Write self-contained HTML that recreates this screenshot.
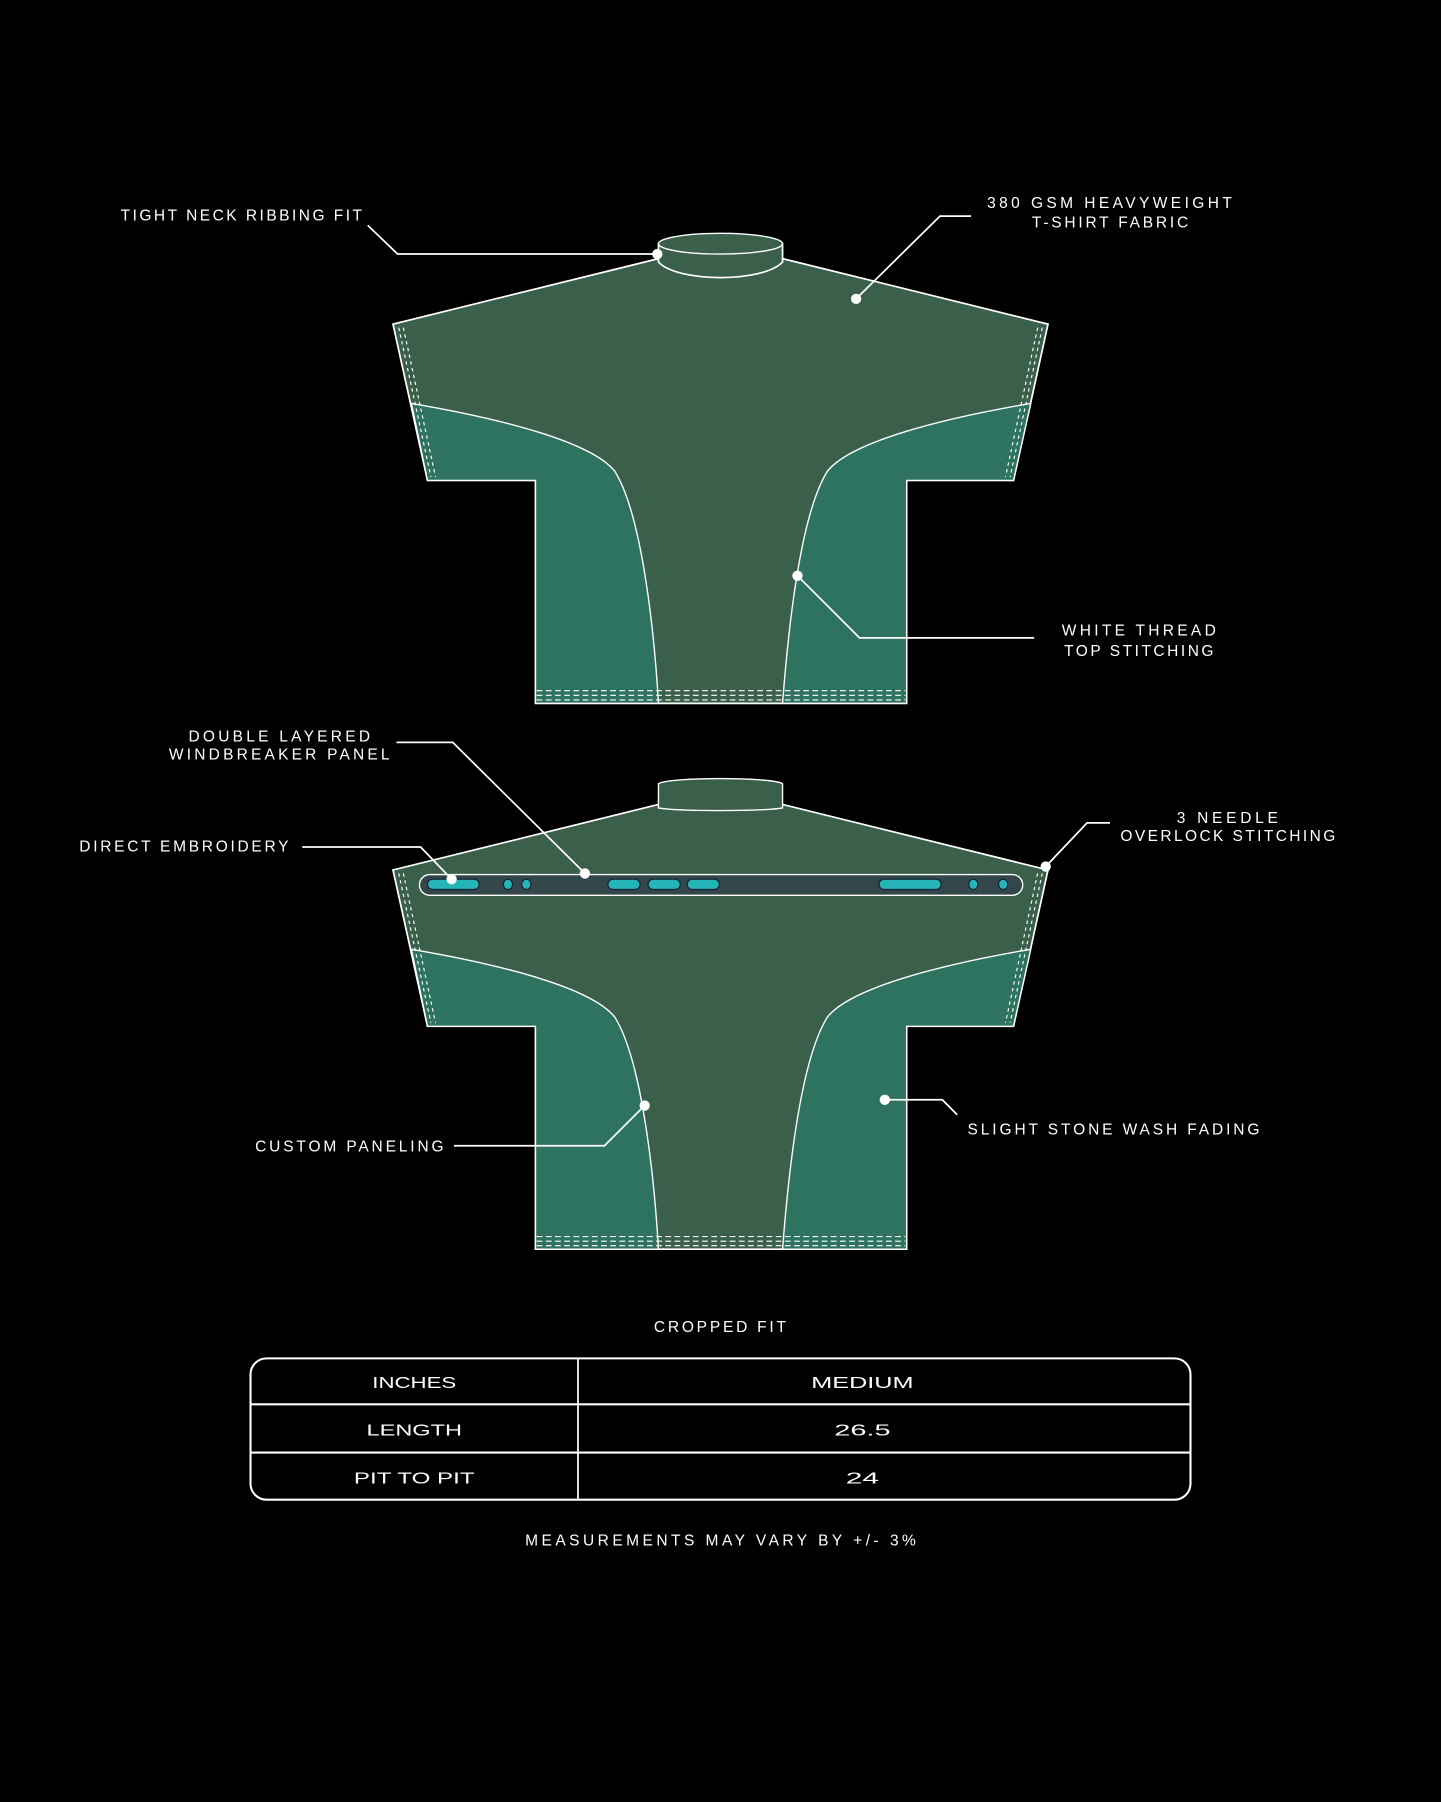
<!DOCTYPE html>
<html><head><meta charset="utf-8"><style>
html,body{margin:0;padding:0;background:#000;}
svg{display:block}
text{font-family:"Liberation Sans",sans-serif;fill:#fff;font-size:13.5px;}
</style></head><body>
<svg width="1441" height="1802" viewBox="0 0 1254 1568" xmlns="http://www.w3.org/2000/svg">
<rect width="1254" height="1568" fill="#000"/>
<defs>
<g id="shirt">
  <path d="M573,225 L342,282 L372,418 L466,418 L466,612 L789,612 L789,418 L882,418 L912,282 L681,225 Z" fill="#3a5f4a" stroke="#fff" stroke-width="1.5"/>
  <path d="M358,351 C440,365 515,385 535,410 C560,450 570,560 573,612 L466,612 L466,418 L372,418 Z" fill="#2e7360" stroke="#fff" stroke-width="1.2"/>
  <path d="M897,351 C815,365 740,385 720,410 C695,450 685,560 681,612 L789,612 L789,418 L882,418 Z" fill="#2e7360" stroke="#fff" stroke-width="1.2"/>
  <g stroke="#fff" stroke-width="1" fill="none" stroke-dasharray="3 3">
    <line x1="347" y1="285" x2="375" y2="415"/>
    <line x1="351" y1="285" x2="379" y2="415"/>
    <line x1="907" y1="285" x2="879" y2="415"/>
    <line x1="903" y1="285" x2="875" y2="415"/>
    <line x1="467" y1="601" x2="788" y2="601" stroke-dasharray="5 3"/>
    <line x1="467" y1="605" x2="788" y2="605" stroke-dasharray="5 3"/>
    <line x1="467" y1="609" x2="788" y2="609" stroke-dasharray="5 3"/>
  </g>
</g>
</defs>
<use href="#shirt"/>
<path d="M573,212 L573,228 C590,246 664,246 681,228 L681,212 Z" fill="#3a5f4a" stroke="#fff" stroke-width="1.5"/>
<ellipse cx="627" cy="212" rx="54" ry="9" fill="#3a5f4a" stroke="#fff" stroke-width="1.2"/>
<use href="#shirt" y="475"/>
<path d="M573,703 L573,682 C580,676 674,676 681,682 L681,703 C664,706 590,706 573,703 Z" fill="#3a5f4a" stroke="#fff" stroke-width="1.2"/>
<rect x="365" y="761" width="525" height="18" rx="9" fill="#33464a" stroke="#fff" stroke-width="1.2"/>
<g fill="#25b5b8" stroke="#123" stroke-width="1">
  <rect x="372" y="765" width="45" height="9" rx="4.5"/>
  <ellipse cx="442" cy="769.5" rx="4" ry="4.5"/>
  <ellipse cx="458" cy="769.5" rx="4" ry="4.5"/>
  <rect x="529" y="765" width="28" height="9" rx="4.5"/>
  <rect x="564" y="765" width="28" height="9" rx="4.5"/>
  <rect x="598" y="765" width="28" height="9" rx="4.5"/>
  <rect x="765" y="765" width="54" height="9" rx="4.5"/>
  <ellipse cx="847" cy="769.5" rx="4" ry="4.5"/>
  <ellipse cx="873" cy="769.5" rx="4" ry="4.5"/>
</g>
<g stroke="#fff" stroke-width="1.5" fill="none">
  <polyline points="320,196 346,221 572,221"/>
  <polyline points="845,188 818,188 745,260"/>
  <polyline points="900,555 748,555 694,501"/>
  <polyline points="345,646 394,646 509,760"/>
  <polyline points="263,737 366,737 393,765"/>
  <polyline points="966,716 946,716 910,754"/>
  <polyline points="395,997 526,997 561,962"/>
  <polyline points="833,970 820,957 770,957"/>
</g>
<g fill="#fff">
  <circle cx="572" cy="221" r="4.5"/><circle cx="745" cy="260" r="4.5"/>
  <circle cx="694" cy="501" r="4.5"/><circle cx="509" cy="760" r="4.5"/>
  <circle cx="393" cy="765" r="4.5"/><circle cx="910" cy="754" r="4.5"/>
  <circle cx="561" cy="962" r="4.5"/><circle cx="770" cy="957" r="4.5"/>
</g>
<text x="105" y="192" textLength="210">TIGHT NECK RIBBING FIT</text>
<text x="859" y="181" textLength="213">380 GSM HEAVYWEIGHT</text>
<text x="898" y="198" textLength="136">T-SHIRT FABRIC</text>
<text x="924" y="553" textLength="134">WHITE THREAD</text>
<text x="926" y="571" textLength="130">TOP STITCHING</text>
<text x="164" y="645" textLength="158">DOUBLE LAYERED</text>
<text x="147" y="661" textLength="192">WINDBREAKER PANEL</text>
<text x="69" y="741" textLength="182">DIRECT EMBROIDERY</text>
<text x="1024" y="716" textLength="88">3 NEEDLE</text>
<text x="975" y="732" textLength="187">OVERLOCK STITCHING</text>
<text x="222" y="1002" textLength="164">CUSTOM PANELING</text>
<text x="842" y="987" textLength="254">SLIGHT STONE WASH FADING</text>
<text x="569" y="1159" textLength="115">CROPPED FIT</text>
<rect x="218" y="1182" width="818" height="123" rx="14" fill="none" stroke="#fff" stroke-width="1.8"/>
<line x1="218" y1="1222" x2="1036" y2="1222" stroke="#fff" stroke-width="1.8"/>
<line x1="218" y1="1264" x2="1036" y2="1264" stroke="#fff" stroke-width="1.8"/>
<line x1="503" y1="1182" x2="503" y2="1305" stroke="#fff" stroke-width="1.5"/>
<g style="font-size:17px">
<text x="324" y="1208" textLength="73" lengthAdjust="spacingAndGlyphs">INCHES</text>
<text x="706" y="1208" textLength="89" lengthAdjust="spacingAndGlyphs">MEDIUM</text>
<text x="319" y="1249" textLength="83" lengthAdjust="spacingAndGlyphs">LENGTH</text>
<text x="726" y="1249" textLength="49" lengthAdjust="spacingAndGlyphs">26.5</text>
<text x="308" y="1291" textLength="105" lengthAdjust="spacingAndGlyphs">PIT TO PIT</text>
<text x="736" y="1291" textLength="29" lengthAdjust="spacingAndGlyphs">24</text>
</g>
<text x="457" y="1345" textLength="340">MEASUREMENTS MAY VARY BY +/- 3%</text>
</svg>
</body></html>
